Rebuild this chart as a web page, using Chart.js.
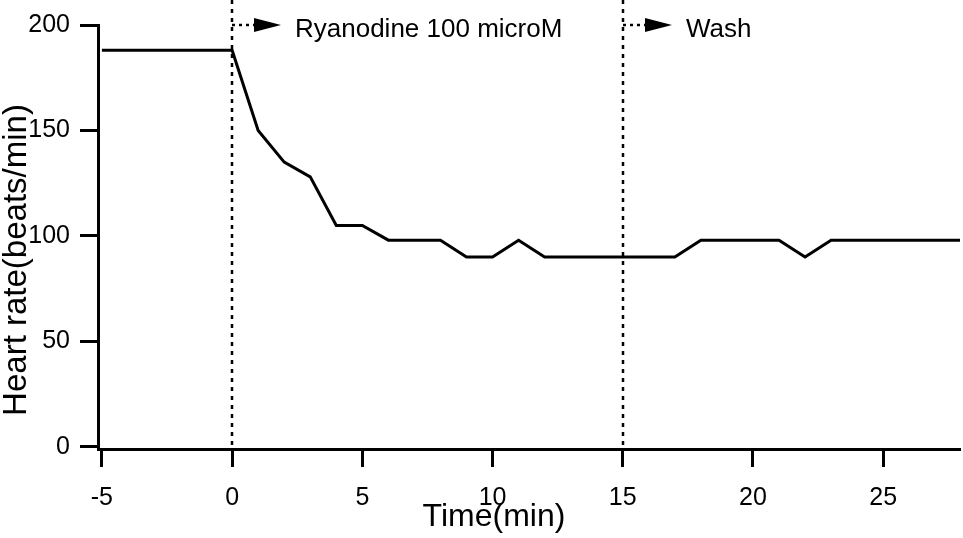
<!DOCTYPE html>
<html>
<head>
<meta charset="utf-8">
<script src="https://cdn.jsdelivr.net/npm/chart.js@4"></script>
<style>
  html, body { margin: 0; padding: 0; background: #fff; }
  canvas { display: block; }
</style>
</head>
<body>
<canvas id="chart" width="963" height="538"></canvas>
<script>
const times = [-5, 0, 1, 2, 3, 4, 5, 6, 7, 8, 9, 10, 11, 12, 13, 14, 15, 16, 17, 18, 19, 20, 21, 22, 23, 24, 25, 26, 27, 28];
const heartRate = [188, 188, 150, 135, 128, 105, 105, 98, 98, 98, 90, 90, 98, 90, 90, 90, 90, 90, 90, 98, 98, 98, 98, 90, 98, 98, 98, 98, 98, 98];
const markerTimes = [0, 15];
const markerLabels = ['Ryanodine 100 microM', 'Wash'];
const xTicks = [-5, 0, 5, 10, 15, 20, 25];
const yTicks = [0, 50, 100, 150, 200];

const FONT = '"Liberation Sans", Arial, sans-serif';

// dotted lines at the treatment times, arrows, notes and axis titles
const markers = {
  id: 'markers',
  afterDraw(chart) {
    const ctx = chart.ctx;
    const x = chart.scales.x;
    const area = chart.chartArea;
    ctx.save();
    ctx.strokeStyle = '#000';
    ctx.fillStyle = '#000';
    markerTimes.forEach((t, i) => {
      const px = Math.round(x.getPixelForValue(t));
      ctx.lineWidth = 2.5;
      ctx.setLineDash([4, 5]);
      ctx.beginPath();
      ctx.moveTo(px, 0);
      ctx.lineTo(px, area.bottom);
      ctx.stroke();

      const ay = 25;
      ctx.setLineDash([3, 4]);
      ctx.beginPath();
      ctx.moveTo(px, ay);
      ctx.lineTo(px + 22, ay);
      ctx.stroke();
      ctx.setLineDash([]);
      ctx.beginPath();
      ctx.moveTo(px + 22, ay - 7);
      ctx.lineTo(px + 49, ay);
      ctx.lineTo(px + 22, ay + 7);
      ctx.closePath();
      ctx.fill();

      ctx.font = '26px ' + FONT;
      ctx.textAlign = 'left';
      ctx.textBaseline = 'alphabetic';
      ctx.fillText(markerLabels[i], px + 63, 37);
    });

    ctx.font = '32px ' + FONT;
    ctx.textAlign = 'center';
    ctx.textBaseline = 'alphabetic';
    ctx.fillText('Time(min)', 494, 526);

    ctx.font = '33px ' + FONT;
    ctx.translate(26, 260);
    ctx.rotate(-Math.PI / 2);
    ctx.fillText('Heart rate(beats/min)', 0, 0);
    ctx.restore();
  }
};

const axisStyle = {
  grid: { drawOnChartArea: false, drawTicks: true, tickLength: 18, tickWidth: 3, tickColor: '#000' },
  border: { display: true, color: '#000', width: 3 }
};

new Chart(document.getElementById('chart'), {
  type: 'line',
  data: {
    datasets: [{
      data: times.map((t, i) => ({ x: t, y: heartRate[i] })),
      borderColor: '#000',
      borderWidth: 3,
      pointRadius: 0,
      tension: 0,
      fill: false
    }]
  },
  options: {
    responsive: false,
    animation: false,
    layout: { padding: { top: 19, right: 3, left: 0, bottom: 0 } },
    plugins: { legend: { display: false }, tooltip: { enabled: false } },
    scales: {
      x: {
        type: 'linear',
        min: -5.15,
        max: 27.95,
        ...axisStyle,
        afterBuildTicks: s => { s.ticks = xTicks.map(v => ({ value: v })); },
        afterFit: s => { s.height = 89; },
        ticks: { color: '#000', font: { size: 25, family: FONT }, padding: 16, maxRotation: 0, autoSkip: false }
      },
      y: {
        min: -1,
        max: 200,
        ...axisStyle,
        afterBuildTicks: s => { s.ticks = yTicks.map(v => ({ value: v })); },
        afterFit: s => { s.width = 98; },
        ticks: { color: '#000', font: { size: 25, family: FONT }, padding: 10 }
      }
    }
  },
  plugins: [markers]
});
</script>
</body>
</html>
